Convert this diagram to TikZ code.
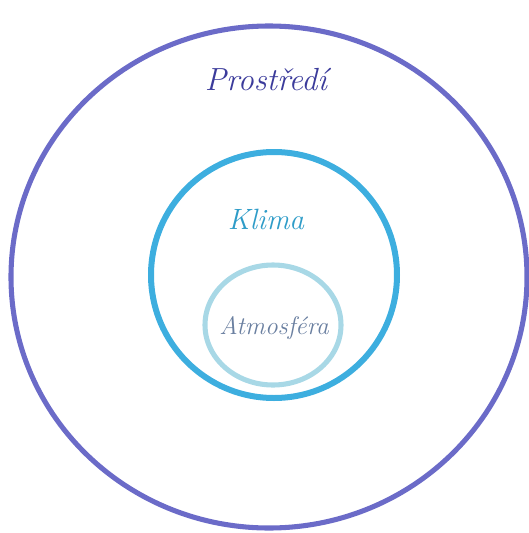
\documentclass[tikz,border=0pt]{standalone}
\usepackage{fontspec}
\definecolor{prostrcol}{HTML}{6B6BC8}
\definecolor{prostrtext}{HTML}{3B3B9B}
\definecolor{klimacol}{HTML}{3DAEDF}
\definecolor{klimatext}{HTML}{2E9CC8}
\definecolor{atmocol}{HTML}{A8D8E6}
\definecolor{atmotext}{HTML}{6A7FA0}
\tikzset{
	label text/.style = {font=\itshape\fontsize{#1}{#1}\selectfont, inner sep=0pt}
}
\begin{document}
\begin{tikzpicture}[x=0.75pt, y=-0.75pt]
	\useasboundingbox (0,0) rectangle (529,533);
	\draw[prostrcol, line width=3.8pt] (269,277) ellipse [x radius=258, y radius=251];
	\draw[klimacol, line width=4.5pt] (274,275) circle [radius=123];
	\draw[atmocol, line width=3.8pt] (273,325) ellipse [x radius=68, y radius=60];
	\node[label text=24, prostrtext] (prostredi) at (266,80) {Prostředí};
	\node[label text=22, klimatext] (klima) at (266,219) {Klima};
	\node[label text=19, atmotext] (atmosfera) at (274,328) {Atmosféra};
\end{tikzpicture}
\end{document}
